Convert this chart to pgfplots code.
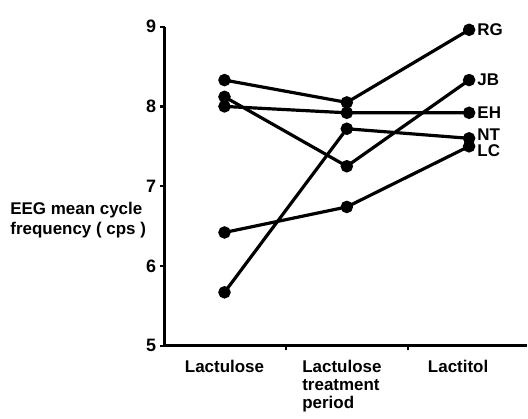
\documentclass[border=0pt]{standalone}
\usepackage{fontspec}
\setmainfont{Liberation Sans}
\usepackage{pgfplots}
\pgfplotsset{compat=1.18}
\begin{document}
\begin{tikzpicture}
\begin{axis}[
  scale only axis,
  width=181.5pt, height=160pt,
  xmin=-0.49, xmax=2.47,
  ymin=5, ymax=9,
  axis lines=left,
  axis line style={-, line width=1.4pt},
  tick align=outside,
  major tick length=2.2pt,
  tick style={line width=1.1pt, black},
  xtick={0.5,1.5},
  xticklabels={},
  extra x ticks={0,0.96,1.91},
  extra x tick labels={Lactulose,{Lactulose\\treatment\\period},Lactitol},
  extra x tick style={major tick length=0pt, tick style={draw=none},
    xticklabel style={align=left, anchor=north, yshift=-3.5pt,
      font=\bfseries\fontsize{8.5}{9.2}\selectfont}},
  ytick={5,6,7,8,9},
  yticklabel style={font=\bfseries\fontsize{9}{10}\selectfont, xshift=1.5pt},
  /pgf/number format/assume math mode=true,
  clip=false,
]
\pgfplotsset{pt/.style={black, line width=1.6pt, mark=*, mark size=2.3pt, mark options={solid, fill=black, draw=black}}}
\coordinate (O) at (rel axis cs:0,0);
% RG
\addplot[pt] coordinates {(0,8.33) (1,8.05) (2,8.96)};
% EH
\addplot[pt] coordinates {(0,8.00) (1,7.92) (2,7.92)};
% JB
\addplot[pt] coordinates {(0,8.12) (1,7.25) (2,8.33)};
% NT
\addplot[pt] coordinates {(0,5.67) (1,7.72) (2,7.60)};
% LC
\addplot[pt] coordinates {(0,6.42) (1,6.74) (2,7.50)};
\begin{scope}[every node/.style={anchor=west, inner sep=0pt, font=\bfseries\fontsize{8.5}{9.2}\selectfont}]
\node at ([xshift=4pt]axis cs:2,8.96) {RG};
\node at ([xshift=4pt]axis cs:2,8.33) {JB};
\node at ([xshift=4pt]axis cs:2,7.92) {EH};
\node at ([xshift=4pt]axis cs:2,7.64) {NT};
\node at ([xshift=4pt]axis cs:2,7.44) {LC};
\end{scope}
\node[anchor=west, align=left, inner sep=0pt, font=\bfseries\fontsize{8.5}{10}\selectfont]
  at ([xshift=-77.5pt]axis cs:-0.49,6.58) {EEG mean cycle\\frequency ( cps )};
\end{axis}
\path (O) ++(-82.5pt,-32.15pt) rectangle ++(264pt,205.5pt);
\end{tikzpicture}
\end{document}
